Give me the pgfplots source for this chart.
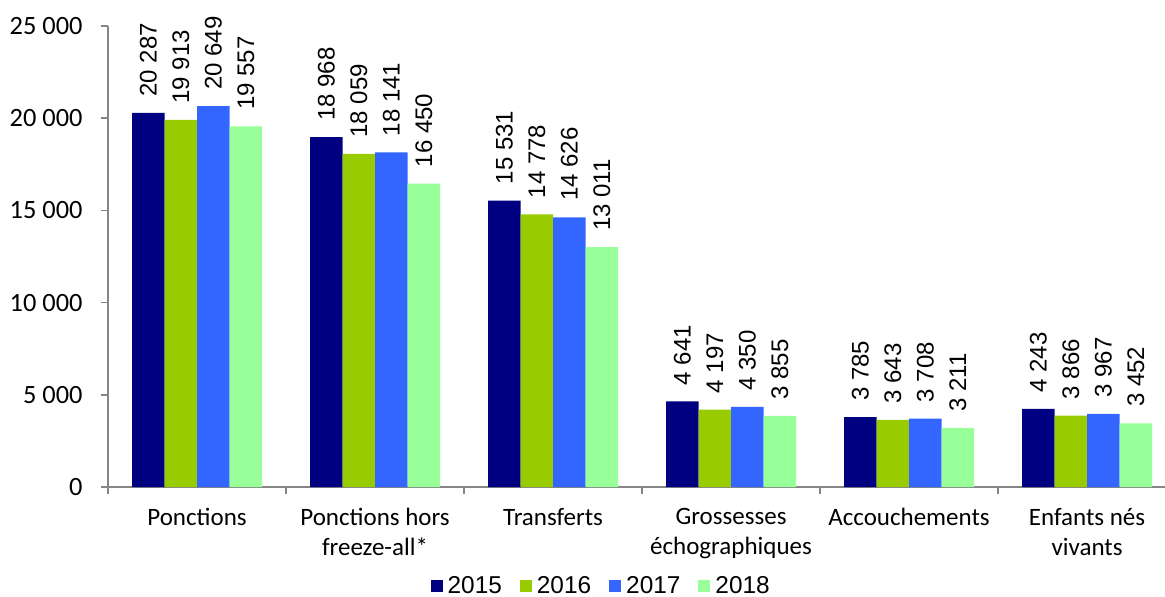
\documentclass[border=0pt]{standalone}
\usepackage{pgfplots}
\pgfplotsset{compat=1.18}
\usepackage{fontspec}
\setmainfont{Carlito}
\newfontfamily\arial{Liberation Sans}

\definecolor{c2015}{HTML}{000080}
\definecolor{c2016}{HTML}{99CC00}
\definecolor{c2017}{HTML}{3366FF}
\definecolor{c2018}{HTML}{99FF99}
\definecolor{axisgray}{HTML}{868686}

\pgfplotsset{sqlegend/.style={legend image code/.code={\fill[##1] (0bp,-3bp) rectangle (6bp,3bp);}}}

\begin{document}
\begin{tikzpicture}
\useasboundingbox (-54bp,-55bp) rectangle (528.5bp,243.5bp);
\begin{axis}[
    scale only axis,
    width=528.5bp, height=230.5bp,
    xmin=-0.5, xmax=5.438,
    ymin=0, ymax=25000,
    axis x line=bottom, axis y line=left,
    axis line style={-, axisgray, line width=0.8bp},
    ybar=0pt, bar width=16.25bp,
    scaled y ticks=false,
    ytick={0,5000,10000,15000,20000,25000},
    xtick={-0.5,0.5,1.5,2.5,3.5,4.5},
    xticklabels={},
    extra x ticks={0,1,2,3,4,5},
    extra x tick labels={Ponctions,{Ponctions hors\\freeze-all*},Transferts,{Grossesses\\échographiques},Accouchements,{Enfants nés\\vivants}},
    extra x tick style={major tick length=0pt},
    tick align=outside, major tick length=3.5bp,
    tick style={axisgray, line width=0.8bp},
    /pgf/number format/.cd, fixed, precision=0, 1000 sep={\ }, assume math mode=true,
    /pgfplots/.cd,
    tick label style={font=\fontsize{12.5bp}{15bp}\selectfont, text=black},
    yticklabel style={anchor=east, inner sep=0pt, xshift=-9bp, font=\fontsize{13.2bp}{15bp}\selectfont},
    xticklabel style={align=center, anchor=north, inner sep=0pt, yshift=-10.5bp},
    nodes near coords,
    every node near coord/.append style={rotate=90, anchor=west, inner xsep=8bp, inner ysep=0pt, font=\arial\fontsize{12bp}{14bp}\selectfont, text=black},
    legend style={at={(axis description cs:0.468,-0.2150)}, anchor=center, draw=none, fill=none,
        legend columns=-1, font=\arial\fontsize{12.2bp}{14bp}\selectfont,
        nodes={inner sep=2.5bp},
        /tikz/every even column/.append style={column sep=6.5bp}},
]
\addplot[fill=c2015, draw=none, sqlegend] coordinates {(0,20287) (1,18968) (2,15531) (3,4641) (4,3785) (5,4243)};
\addplot[fill=c2016, draw=none, sqlegend] coordinates {(0,19913) (1,18059) (2,14778) (3,4197) (4,3643) (5,3866)};
\addplot[fill=c2017, draw=none, sqlegend] coordinates {(0,20649) (1,18141) (2,14626) (3,4350) (4,3708) (5,3967)};
\addplot[fill=c2018, draw=none, sqlegend] coordinates {(0,19557) (1,16450) (2,13011) (3,3855) (4,3211) (5,3452)};
\legend{2015,2016,2017,2018}
\end{axis}
\end{tikzpicture}
\end{document}
